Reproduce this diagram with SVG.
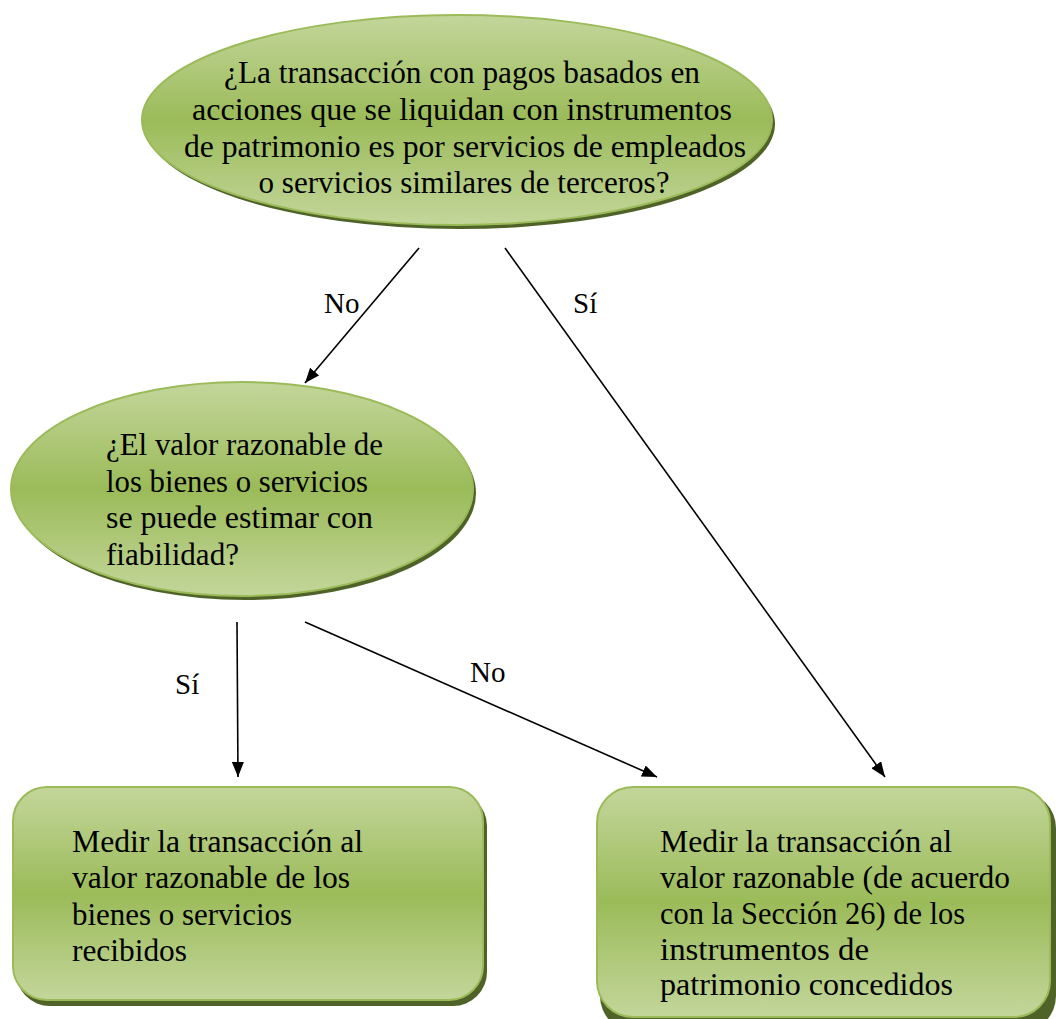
<svg xmlns="http://www.w3.org/2000/svg" width="1056" height="1019" viewBox="0 0 1056 1019">
<style>
.t{font-family:"Liberation Serif","Times New Roman",serif;font-size:31px;fill:#000}
.lbl{font-family:"Liberation Serif","Times New Roman",serif;font-size:29px;fill:#000}
.shape{fill:url(#g);stroke:#9bbb59;stroke-width:2}
.shadow{fill:#4f6228}
.conn{stroke:#000;stroke-width:1.6;fill:none;marker-end:url(#arr)}
</style>
<defs>
<linearGradient id="g" x1="0" y1="0" x2="0" y2="1">
<stop offset="0" stop-color="#c3d69b"/>
<stop offset="0.5" stop-color="#9bbb59"/>
<stop offset="1" stop-color="#c3d69b"/>
</linearGradient>
<marker id="arr" markerUnits="userSpaceOnUse" markerWidth="16" markerHeight="12" refX="15" refY="6" orient="auto" viewBox="0 0 16 12">
<path d="M0,0 L15,6 L0,12 z" fill="#000"/>
</marker>
</defs>
<rect width="1056" height="1019" fill="#fff"/>

<g id="node-q1">
<ellipse class="shadow" cx="460" cy="124" rx="315" ry="105"/>
<ellipse class="shape" cx="457" cy="120" rx="315" ry="105"/>
<text class="t" text-anchor="middle" x="462" y="83" textLength="476" lengthAdjust="spacingAndGlyphs">¿La transacción con pagos basados en</text>
<text class="t" text-anchor="middle" x="462" y="120" textLength="540" lengthAdjust="spacingAndGlyphs">acciones que se liquidan con instrumentos</text>
<text class="t" text-anchor="middle" x="465" y="157" textLength="562" lengthAdjust="spacingAndGlyphs">de patrimonio es por servicios de empleados</text>
<text class="t" text-anchor="middle" x="464" y="193" textLength="411" lengthAdjust="spacingAndGlyphs">o servicios similares de terceros?</text>
</g>

<g id="node-q2">
<ellipse class="shadow" cx="245" cy="493" rx="231" ry="107"/>
<ellipse class="shape" cx="242" cy="489" rx="231" ry="107"/>
<text class="t" x="106" y="455" textLength="277" lengthAdjust="spacingAndGlyphs">¿El valor razonable de</text>
<text class="t" x="106" y="492" textLength="262" lengthAdjust="spacingAndGlyphs">los bienes o servicios</text>
<text class="t" x="106" y="528" textLength="267" lengthAdjust="spacingAndGlyphs">se puede estimar con</text>
<text class="t" x="106" y="565" textLength="133" lengthAdjust="spacingAndGlyphs">fiabilidad?</text>
</g>

<g id="node-r1">
<rect class="shadow" x="16" y="792" width="471" height="214" rx="34"/>
<rect class="shape" x="13" y="787" width="470" height="213" rx="34"/>
<text class="t" x="72" y="852" textLength="291" lengthAdjust="spacingAndGlyphs">Medir la transacción al</text>
<text class="t" x="72" y="888" textLength="278" lengthAdjust="spacingAndGlyphs">valor razonable de los</text>
<text class="t" x="72" y="925" textLength="220" lengthAdjust="spacingAndGlyphs">bienes o servicios</text>
<text class="t" x="72" y="961" textLength="115" lengthAdjust="spacingAndGlyphs">recibidos</text>
</g>

<g id="node-r2">
<rect class="shadow" x="600" y="792" width="456" height="240" rx="36"/>
<rect class="shape" x="597" y="787" width="453" height="230" rx="36"/>
<text class="t" x="660" y="852" textLength="292" lengthAdjust="spacingAndGlyphs">Medir la transacción al</text>
<text class="t" x="660" y="888" textLength="350" lengthAdjust="spacingAndGlyphs">valor razonable (de acuerdo</text>
<text class="t" x="660" y="924" textLength="305" lengthAdjust="spacingAndGlyphs">con la Sección 26) de los</text>
<text class="t" x="660" y="960" textLength="209" lengthAdjust="spacingAndGlyphs">instrumentos de</text>
<text class="t" x="660" y="995" textLength="293" lengthAdjust="spacingAndGlyphs">patrimonio concedidos</text>
</g>

<g id="connectors">
<line class="conn" x1="419" y1="248" x2="305" y2="383"/>
<line class="conn" x1="505" y1="248" x2="885" y2="777"/>
<line class="conn" x1="237" y1="622" x2="238" y2="777"/>
<line class="conn" x1="305" y1="622" x2="657" y2="777"/>
<text class="lbl" x="324" y="313">No</text>
<text class="lbl" x="573" y="313">Sí</text>
<text class="lbl" x="175" y="694">Sí</text>
<text class="lbl" x="470" y="682">No</text>
</g>
</svg>
